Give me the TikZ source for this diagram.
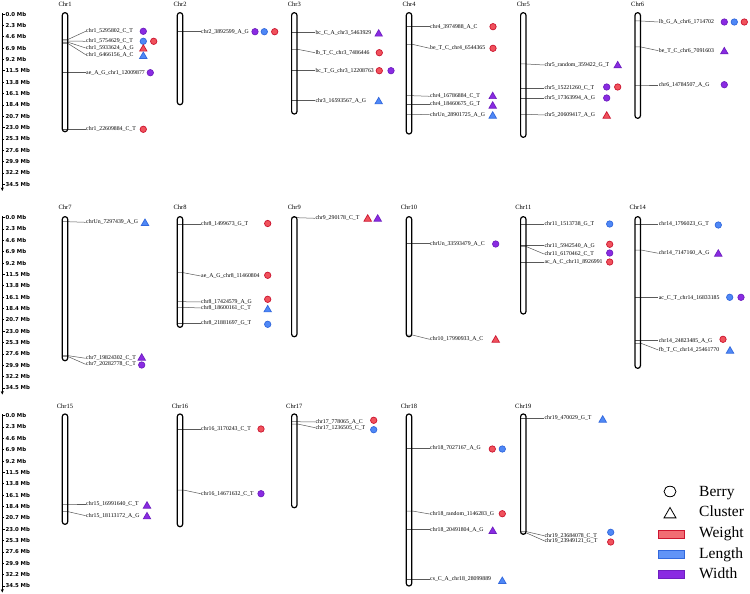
\documentclass[tikz,border=0pt]{standalone}
\usepackage{fontspec}
\setmainfont{Liberation Serif}
\newfontfamily\axfont{DejaVu Sans}
\usetikzlibrary{shapes.geometric,arrows.meta}
\definecolor{redF}{HTML}{F0525C}
\definecolor{redL}{HTML}{CC1530}
\definecolor{bluF}{HTML}{4F88F6}
\definecolor{bluL}{HTML}{3268DD}
\definecolor{purF}{HTML}{8A2BE2}
\definecolor{purL}{HTML}{6E1FC0}
\tikzset{
 lbl/.style={anchor=west,inner sep=0.3pt,font=\fontsize{5.8}{6}\selectfont},
 lead/.style={line width=0.5pt,black!65},
 chrom/.style={line width=1.2pt,rounded corners=2.6pt},
 ttl/.style={font=\fontsize{6.5}{7}\selectfont,inner sep=0},
 axl/.style={anchor=west,inner sep=0,font=\axfont\bfseries\fontsize{5.4}{6}\selectfont},
 sym/.style={inner sep=0,line width=0.7pt},
 cir/.style={sym,circle,minimum size=6.4pt},
 tri/.style={sym,regular polygon,regular polygon sides=3,minimum size=8.6pt,yshift=-1pt},
 cR/.style={cir,fill=redF,draw=redL},
 cB/.style={cir,fill=bluF,draw=bluL},
 cP/.style={cir,fill=purF,draw=purL},
 tR/.style={tri,fill=redF,draw=redL},
 tB/.style={tri,fill=bluF,draw=bluL},
 tP/.style={tri,fill=purF,draw=purL},
 legtxt/.style={anchor=base west,inner sep=0,font=\fontsize{15.5}{17}\selectfont},
 legbar/.style={inner sep=0,minimum width=26pt,minimum height=8pt,line width=0.9pt},
}
% marker: name, chrom x, mark y, label y, text
\newcommand\mk[5]{%
 \coordinate (#1L) at ({#2-2.7},#3);
 \coordinate (#1R) at ({#2+3.3},#3);
 \node[lbl] (#1) at ({#2+20.7},#4) {#5};
 \draw[lead] (#1L) -- (#1R) -- (#1.west);}
% chromosome: name, x, top, bottom, title y
\newcommand\chrom[5]{%
 \draw[chrom] ({#2-2.7},#3) rectangle ({#2+2.7},#4);
 \node[ttl] (T#1) at (#2,#5) {#1};}
% axis: id, y0
\newcommand\mbaxis[2]{%
 \draw[line width=0.8pt,-{Stealth[length=3.5pt,width=3pt]}] (2.3,{#2-1.2}) -- (2.3,{#2+177});
 \foreach \v [count=\i from 0] in {0.0,2.3,4.6,6.9,9.2,11.5,13.8,16.1,18.4,20.7,23.0,25.3,27.6,29.9,32.2,34.5}{%
  \pgfmathsetmacro\yy{#2+\i*11.35}
  \pgfmathsetmacro\tl{mod(\i,5)==0 ? 2.8 : 1.6}
  \draw[line width=0.6pt] (2.3,\yy) -- ({2.3+\tl},\yy);
  \node[axl] (ax#1n\i) at (5.3,\yy) {\v\ Mb};
 }}
\begin{document}
\begin{tikzpicture}[x=1pt,y=-1pt]
\useasboundingbox (0,0) rectangle (750,594);
\fill[white] (0,0) rectangle (750,594);
% axes
\mbaxis{A}{14}
\mbaxis{B}{217.6}
\mbaxis{C}{415.6}
% ---------------- row 1 markers
\mk{a1}{65}{39.3}{31.3}{chr1\_5295802\_C\_T}
\mk{a2}{65}{41}{41.3}{chr1\_5754629\_C\_T}
\mk{a3}{65}{42.3}{48}{chr1\_5933624\_A\_G}
\mk{a4}{65}{43.7}{54.7}{chr1\_6466156\_A\_C}
\mk{a5}{65}{72.7}{72.7}{ae\_A\_G\_chr1\_12009877}
\mk{a6}{65}{129.3}{129.3}{chr1\_22609884\_C\_T}
\mk{b1}{180}{31.7}{31.7}{chr2\_3892599\_A\_G}
\mk{c1}{294.3}{32.7}{32.7}{bc\_C\_A\_chr3\_5463929}
\mk{c2}{294.3}{49.3}{52.7}{lb\_T\_C\_chr3\_7486446}
\mk{c3}{294.3}{70.7}{70.7}{bc\_T\_G\_chr3\_12208763}
\mk{c4}{294.3}{100.7}{100.7}{chr3\_16593567\_A\_G}
\mk{d1}{409}{26.7}{26.7}{chr4\_3974988\_A\_C}
\mk{d2}{409}{44.3}{48.3}{be\_T\_C\_chr4\_6544365}
\mk{d3}{409}{95.7}{96.3}{chr4\_16786884\_C\_T}
\mk{d4}{409}{104.3}{104.3}{chr4\_18460675\_G\_T}
\mk{d5}{409}{114.3}{114.7}{chrUn\_28901725\_A\_G}
\mk{e1}{523.3}{64}{65}{chr5\_random\_359422\_G\_T}
\mk{e2}{523.3}{88.3}{88.3}{chr5\_15221260\_C\_T}
\mk{e3}{523.3}{98.3}{98.3}{chr5\_17363994\_A\_G}
\mk{e4}{523.3}{114.3}{115}{chr5\_20609417\_A\_G}
\mk{f1}{637.7}{21}{22}{lb\_G\_A\_chr6\_1714702}
\mk{f2}{637.7}{47}{50.7}{be\_T\_C\_chr6\_7091603}
\mk{f3}{637.7}{85}{85}{chr6\_14784507\_A\_G}
% ---------------- row 2 markers
\mk{g1}{65}{221.7}{222.3}{chrUn\_7297439\_A\_G}
\mk{g2}{65}{355.7}{358.3}{chr7\_19824302\_C\_T}
\mk{g3}{65}{356.7}{364.3}{chr7\_20282778\_C\_T}
\mk{h1}{180}{224.3}{224.3}{chr8\_1499673\_G\_T}
\mk{h2}{180}{272.7}{276}{ae\_A\_G\_chr8\_11460804}
\mk{h3}{180}{301.7}{302}{chr8\_17424579\_A\_G}
\mk{h4}{180}{307.3}{308}{chr8\_18600161\_C\_T}
\mk{h5}{180}{323.3}{323.3}{chr8\_21881697\_G\_T}
\mk{i1}{294.3}{217.7}{218.3}{chr9\_290178\_C\_T}
\mk{j1}{409}{243.7}{243.7}{chrUn\_33593479\_A\_C}
\mk{j2}{409}{335}{339.3}{chr10\_17990933\_A\_C}
\mk{k1}{523.3}{224.3}{224.3}{chr11\_1513738\_G\_T}
\mk{k2}{523.3}{245.7}{245.7}{chr11\_5942540\_A\_G}
\mk{k3}{523.3}{246.7}{254}{chr11\_6170462\_C\_T}
\mk{k4}{523.3}{262.3}{262.3}{ac\_A\_C\_chr11\_8926991}
\mk{l1}{637.7}{224.3}{224.3}{chr14\_1796023\_G\_T}
\mk{l2}{637.7}{250}{253.3}{chr14\_7147160\_A\_G}
\mk{l3}{637.7}{297.7}{297.7}{ac\_C\_T\_chr14\_16833185}
\mk{l4}{637.7}{340.7}{340.7}{chr14\_24823485\_A\_G}
\mk{l5}{637.7}{343.3}{350}{fb\_T\_C\_chr14\_25461770}
% ---------------- row 3 markers
\mk{m1}{65}{504}{504}{chr15\_16991640\_C\_T}
\mk{m2}{65}{511.7}{515.7}{chr15\_18113172\_A\_G}
\mk{n1}{180}{429.3}{429.3}{chr16\_3170243\_C\_T}
\mk{n2}{180}{490}{493.7}{chr16\_14671632\_C\_T}
\mk{o1}{294.3}{421.7}{422}{chr17\_778065\_A\_C}
\mk{o2}{294.3}{424}{427.7}{chr17\_1236505\_C\_T}
\mk{p1}{409}{448.3}{448.3}{chr18\_7027167\_A\_G}
\mk{p2}{409}{511}{514}{chr18\_random\_1146283\_G}
\mk{p3}{409}{529.7}{529.7}{chr18\_20491804\_A\_G}
\mk{p4}{409}{579.3}{579.3}{cs\_C\_A\_chr18\_28099889}
\mk{q1}{523.3}{418.3}{418.3}{chr19\_470029\_G\_T}
\mk{q2}{523.3}{531.7}{535.7}{chr19\_23684078\_C\_T}
\mk{q3}{523.3}{533}{540.7}{chr19\_23949121\_G\_T}
% ---------------- chromosomes
\chrom{Chr1}{65}{12.7}{131.7}{4.2}
\chrom{Chr2}{180}{12.7}{104.7}{4.2}
\chrom{Chr3}{294.3}{12.7}{114}{4.2}
\chrom{Chr4}{409}{12.7}{134}{4.2}
\chrom{Chr5}{523.3}{12.7}{137.3}{4.2}
\chrom{Chr6}{637.7}{12.7}{118.3}{4.2}
\chrom{Chr7}{65}{216.7}{360.7}{207.7}
\chrom{Chr8}{180}{216.7}{327.3}{207.7}
\chrom{Chr9}{294.3}{216.7}{336.7}{207.7}
\chrom{Chr10}{409}{216.7}{336.7}{207.7}
\chrom{Chr11}{523.3}{216.7}{314}{207.7}
\chrom{Chr14}{637.7}{216.7}{368.3}{207.7}
\chrom{Chr15}{65}{414}{524.3}{405.8}
\chrom{Chr16}{180}{414}{526.7}{405.8}
\chrom{Chr17}{294.3}{414}{507.7}{405.8}
\chrom{Chr18}{409}{414}{586}{405.8}
\chrom{Chr19}{523.3}{414}{534.3}{405.8}
% ---------------- symbols
\node[cP] (s1) at (143.3,31.3) {};
\node[cB] (s2) at (143.3,41.3) {};
\node[cR] (s3) at (153.7,41.3) {};
\node[tR] (s4) at (143.3,48) {};
\node[tB] (s5) at (143.3,55.3) {};
\node[cP] (s6) at (150.3,72.7) {};
\node[cR] (s7) at (143.3,129.3) {};
\node[cP] (s8) at (255,31.7) {};
\node[cB] (s9) at (264.3,31.7) {};
\node[cR] (s10) at (274.7,31.7) {};
\node[tP] (s11) at (378.7,33) {};
\node[cR] (s12) at (379.3,52.7) {};
\node[cR] (s13) at (379.3,70.7) {};
\node[cP] (s14) at (391,70.7) {};
\node[tB] (s15) at (378.7,100.7) {};
\node[cR] (s16) at (493,26.7) {};
\node[cR] (s17) at (493,48.3) {};
\node[tP] (s18) at (492.7,95.5) {};
\node[tP] (s19) at (492.7,105) {};
\node[tB] (s20) at (492.7,115) {};
\node[tP] (s21) at (617.7,64.7) {};
\node[cP] (s22) at (606.7,87) {};
\node[cR] (s23) at (617.7,87) {};
\node[cP] (s24) at (606.7,98) {};
\node[tR] (s25) at (606.7,115) {};
\node[cP] (s26) at (724.3,22) {};
\node[cB] (s27) at (734.3,22) {};
\node[cR] (s28) at (744.3,22) {};
\node[tP] (s29) at (724.3,50.7) {};
\node[cP] (s30) at (724.3,84.7) {};
\node[tB] (s31) at (145,222.3) {};
\node[tP] (s32) at (141.7,357) {};
\node[cP] (s33) at (141.7,365) {};
\node[cR] (s34) at (267.7,223.5) {};
\node[cR] (s35) at (267.7,275.3) {};
\node[cR] (s36) at (267.7,299.3) {};
\node[tB] (s37) at (267.7,308.7) {};
\node[cB] (s38) at (267.7,324.3) {};
\node[tR] (s39) at (367.7,218) {};
\node[tP] (s40) at (377.7,218) {};
\node[cP] (s41) at (495.7,244) {};
\node[tR] (s42) at (495.7,339) {};
\node[cB] (s43) at (609.7,224) {};
\node[cR] (s44) at (609.7,244.3) {};
\node[cP] (s45) at (609.7,253) {};
\node[cR] (s46) at (609.7,262) {};
\node[cB] (s47) at (718.3,225) {};
\node[tP] (s48) at (718.3,253) {};
\node[cB] (s49) at (729.7,297.3) {};
\node[cP] (s50) at (741,297.3) {};
\node[cR] (s51) at (723,339.3) {};
\node[tB] (s52) at (730,350) {};
\node[tP] (s53) at (147,505) {};
\node[tP] (s54) at (147,515.7) {};
\node[cR] (s55) at (261,429) {};
\node[cP] (s56) at (261,493.7) {};
\node[cR] (s57) at (373.7,420.3) {};
\node[cB] (s58) at (373.7,429.7) {};
\node[cR] (s59) at (492.3,449) {};
\node[cB] (s60) at (502.3,449) {};
\node[cR] (s61) at (502.3,513.7) {};
\node[tP] (s62) at (492.7,530.3) {};
\node[tB] (s63) at (502.3,580.3) {};
\node[tB] (s64) at (602.7,419) {};
\node[cB] (s65) at (610.7,532.3) {};
\node[cR] (s66) at (610.7,542) {};
% ---------------- legend
\node[ellipse,draw,line width=0.8pt,inner sep=0,minimum width=12pt,minimum height=10.5pt] (lgB) at (670,491.5) {};
\node[regular polygon,regular polygon sides=3,draw,line width=0.8pt,inner sep=0,minimum size=13.8pt,yshift=-1.7pt] (lgC) at (670,512.7) {};
\node[legbar,fill=redF!85,draw=redL] (lgW) at (671,534) {};
\node[legbar,fill=bluF!90,draw=bluL] (lgL) at (671,554) {};
\node[legbar,fill=purF,draw=purL] (lgD) at (671,574) {};
\node[legtxt] (tB) at (699,496) {Berry};
\node[legtxt] (tC) at (699,516.3) {Cluster};
\node[legtxt] (tW) at (699,537.8) {Weight};
\node[legtxt] (tL) at (699,558) {Length};
\node[legtxt] (tD) at (699,578.5) {Width};
\end{tikzpicture}
\end{document}
